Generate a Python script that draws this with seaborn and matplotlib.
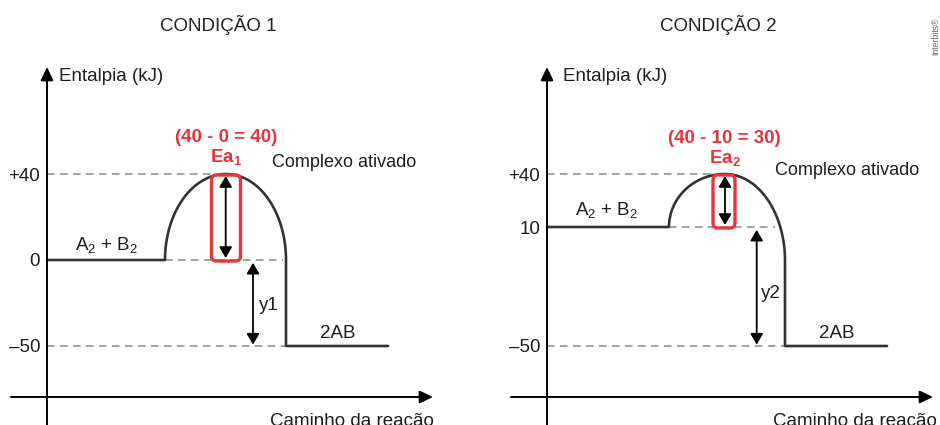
import numpy as np
import matplotlib
matplotlib.use('Agg')
import matplotlib.pyplot as plt
from matplotlib.patches import FancyBboxPatch
import seaborn as sns

# chart content
titles = ['CONDIÇÃO 1', 'CONDIÇÃO 2']
reactant_levels = [0, 10]
peak_levels = [40, 40]
shoulder_levels = [0, -7]      # where the descending branch turns vertical
product_levels = [-50, -50]
tick_values = [[-50, 0, 40], [-50, 10, 40]]
tick_labels = [['–50', '0', '+40'], ['–50', '10', '+40']]
ea_sums = ['(40 - 0 = 40)', '(40 - 10 = 30)']
ea_names = [r'Ea$_\mathbf{1}$', r'Ea$_\mathbf{2}$']
dh_names = ['y1', 'y2']
reactant_text = r'A$_2$ + B$_2$'
product_text = '2AB'
peak_text = 'Complexo ativado'
ylabel_text = 'Entalpia (kJ)'
xlabel_text = 'Caminho da reação'

# layout (pixels: x from the enthalpy axis, h above the -50 line)
tick_heights = [[0, 86, 172], [0, 119, 172]]
panel_x0 = [47, 547]
path_x = [[0, 118, 179, 239, 341], [0, 122, 178, 238, 340]]
box_x = [(164.5, 193.5), (166, 188)]
ea_arrow_x = [178.7, 178]
dh_arrow_x = [206, 209.7]
RED = '#e8343c'
INK = '#1e1e1e'

sns.set_theme(style='white')
plt.rcParams['font.family'] = ['Liberation Sans', 'DejaVu Sans']
plt.rcParams['mathtext.fontset'] = 'custom'
plt.rcParams['mathtext.rm'] = 'Liberation Sans'
plt.rcParams['mathtext.it'] = 'Liberation Sans:italic'
plt.rcParams['mathtext.bf'] = 'Liberation Sans:bold'


def level_scale(vals, hs):
    vals = np.asarray(vals, float)
    hs = np.asarray(hs, float)
    lo = (hs[1] - hs[0]) / (vals[1] - vals[0])
    hi = (hs[-1] - hs[-2]) / (vals[-1] - vals[-2])

    def fwd(v):
        v = np.asarray(v, float)
        return np.where(v < vals[0], hs[0] + (v - vals[0]) * lo,
                        np.where(v > vals[-1], hs[-1] + (v - vals[-1]) * hi,
                                 np.interp(v, vals, hs)))

    def inv(h):
        h = np.asarray(h, float)
        return np.where(h < hs[0], vals[0] + (h - hs[0]) / lo,
                        np.where(h > hs[-1], vals[-1] + (h - hs[-1]) / hi,
                                 np.interp(h, hs, vals)))
    return fwd, inv


fig = plt.figure(figsize=(9.4, 4.25), dpi=100)
fig.patch.set_facecolor('white')

for i in range(2):
    x0 = panel_x0[i]
    ax = fig.add_axes([i * 0.5, 0, 0.5, 1])
    ax.set_facecolor('white')
    fwd, inv = level_scale(tick_values[i], tick_heights[i])
    ax.set_yscale('function', functions=(fwd, inv))

    def at(y_px):
        return float(inv(346 - y_px))

    r, p, s, q = reactant_levels[i], peak_levels[i], shoulder_levels[i], product_levels[i]
    hr, hp, hs, hq = [float(v) for v in fwd([r, p, s, q])]
    xs = path_x[i]

    # energy path: plateau, quarter-ellipse up, quarter-ellipse down, drop, plateau
    t = np.linspace(0, np.pi / 2, 60)
    up_x = xs[2] - (xs[2] - xs[1]) * np.cos(t)
    up_h = hr + (hp - hr) * np.sin(t)
    dn_x = xs[2] + (xs[3] - xs[2]) * np.sin(t)
    dn_h = hs + (hp - hs) * np.cos(t)
    px = np.concatenate([[xs[0]], up_x, dn_x, [xs[3], xs[4]]])
    ph = np.concatenate([[hr], up_h, dn_h, [hq, hq]])
    sns.lineplot(x=px, y=inv(ph), sort=False, estimator=None, ax=ax,
                 color='#333333', linewidth=1.9, zorder=3)

    # dashed guide lines
    dash = dict(color='#8a8a8a', linewidth=1.1, linestyle=(0, (5, 3.5)), zorder=1)
    ax.plot([0, box_x[i][0]], [p, p], **dash)
    ax.plot([xs[1], xs[3] - 3 - 7 * i], [r, r], **dash)
    ax.plot([0, xs[3]], [q, q], **dash)

    # axes with arrowheads
    ax_arrow = dict(arrowstyle='-|>,head_length=0.8,head_width=0.38', color='black',
                    lw=1.4, shrinkA=0, shrinkB=0, mutation_scale=10)
    ax.annotate('', xy=(0, at(67)), xytext=(0, at(430)), arrowprops=ax_arrow)
    ax.annotate('', xy=(386, at(397)), xytext=(-36, at(397)), arrowprops=ax_arrow)

    # activation energy box and arrows
    b0 = float(inv(hr - 1))
    b1 = float(inv(hp - 1))
    aspect = (p - r) / (hp - hr)
    ax.add_patch(FancyBboxPatch((box_x[i][0], b0), box_x[i][1] - box_x[i][0], b1 - b0,
                                boxstyle='round,pad=0,rounding_size=5',
                                mutation_aspect=aspect, facecolor='none',
                                edgecolor=RED, linewidth=2.4, zorder=4))
    dbl = dict(arrowstyle='<|-|>,head_length=0.65,head_width=0.38', color='black',
               lw=1.3, shrinkA=1.5, shrinkB=1.5, mutation_scale=10)
    ax.annotate('', xy=(ea_arrow_x[i], r), xytext=(ea_arrow_x[i], p), arrowprops=dbl, zorder=5)
    ax.annotate('', xy=(dh_arrow_x[i], q), xytext=(dh_arrow_x[i], r), arrowprops=dict(dbl, shrinkA=2, shrinkB=1), zorder=5)

    # ticks on the enthalpy axis
    ax.spines['left'].set_position(('data', 0))
    for sp in ax.spines.values():
        sp.set_visible(False)
    ax.set_yticks(tick_values[i], tick_labels[i])
    ax.set_xticks([])
    ax.tick_params(axis='y', length=0, pad=5, labelsize=13.5, labelcolor=INK)
    ax.minorticks_off()

    # texts
    ax.text(171, at(31), titles[i], ha='center', va='baseline', fontsize=13.5, color='#222222')
    ax.text(12 + 4 * i, at(81), ylabel_text, ha='left', va='baseline', fontsize=13.5, color=INK)
    ax.text(179 - 2 * i, at(141.5 + 1 * i), ea_sums[i], ha='center', va='baseline',
            fontsize=13.5, fontweight='bold', color=RED)
    ax.text(179 - i, at(161.5 + 1.5 * i), ea_names[i], ha='center', va='baseline',
            fontsize=13.5, fontweight='bold', color=RED)
    ax.text(225 + 3 * i, at(167 + 8 * i), peak_text, ha='left', va='baseline', fontsize=13, color=INK)
    ax.text(28, at(250 - 35 * i), reactant_text, ha='left', va='baseline', fontsize=13.5, color=INK)
    ax.text(273 - i, at(338.5), product_text, ha='left', va='baseline', fontsize=13.5, color=INK)
    ax.text(212 + 2 * i, at(310.5 - 13 * i), dh_names[i], ha='left', va='baseline', fontsize=13.5, color=INK)
    ax.text(223 + 3 * i, at(426), xlabel_text, ha='left', va='baseline', fontsize=13.5, color=INK)

    ax.set_xlim(-x0 + 470 * i, 470 - x0 + 470 * i)
    ax.set_ylim(float(inv(-79)), float(inv(346)))

fig.text(0.995, 1 - 36 / 425, 'Interbits®', rotation=90, ha='center', va='center',
         fontsize=6.3, color='#666666')

fig.savefig('out.png', dpi=100, facecolor='white')
